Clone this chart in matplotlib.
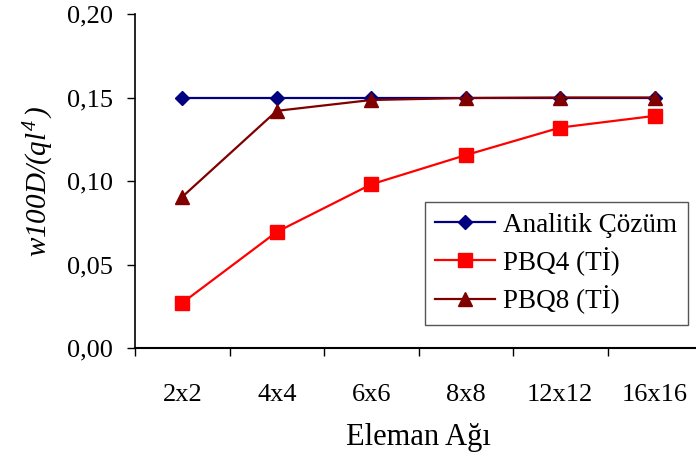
import matplotlib
matplotlib.use("Agg")
import matplotlib.pyplot as plt
import numpy as np

plt.rcParams['font.family'] = ['Liberation Serif', 'DejaVu Serif']
plt.rcParams['mathtext.fontset'] = 'custom'
plt.rcParams['mathtext.rm'] = 'Liberation Serif:italic'
plt.rcParams['mathtext.it'] = 'Liberation Serif:italic'

meshes = ['2x2', '4x4', '6x6', '8x8', '12x12', '16x16']
analitik = [0.150, 0.150, 0.150, 0.150, 0.150, 0.150]
pbq4 = [0.027, 0.0695, 0.098, 0.1155, 0.132, 0.139]
pbq8 = [0.0905, 0.142, 0.1485, 0.1497, 0.150, 0.150]

fig = plt.figure(figsize=(6.96, 4.66), dpi=100)
ax = fig.add_axes([135/696, 1 - 348/466, 567/696, 334/466])

x = np.arange(len(meshes))
ax.plot(x, analitik, color='#000080', marker='D', markersize=7.5, lw=1.6,
        label='Analitik Çözüm')
ax.plot(x, pbq4, color='#ff0000', marker='s', markersize=9.5, lw=1.6,
        label='PBQ4 (Tİ)')
ax.plot(x, pbq8, color='#800000', marker='^', markersize=10, lw=1.6,
        label='PBQ8 (Tİ)')

ax.set_xlim(-0.5, 5.5)
ax.set_ylim(0, 0.20)
ax.set_yticks([0, 0.05, 0.10, 0.15, 0.20])
ax.set_yticklabels(['0,00', '0,05', '0,10', '0,15', '0,20'], fontsize=19)
ax.set_xticks(x)
ax.set_xticklabels(meshes, fontsize=19)
ax.set_xticks(np.arange(-0.5, 5.6, 1), minor=True)
ax.tick_params(axis='x', which='major', length=0, pad=26)
ax.tick_params(axis='x', which='minor', length=6, width=1, direction='out')
ax.tick_params(axis='y', length=6, width=1, direction='out', pad=10)

for s in ['top', 'right']:
    ax.spines[s].set_visible(False)
ax.spines['left'].set_linewidth(1.2)
ax.spines['bottom'].set_linewidth(1.5)

ax.set_ylabel(r'$w100D/(ql^{4}\,)$', fontsize=21, labelpad=8)
ax.set_xlabel('Eleman Ağı', fontsize=22, labelpad=12)

leg = ax.legend(loc='lower right', bbox_to_anchor=(553/567, 23/334), fontsize=19.5,
                frameon=True, fancybox=False, framealpha=1, edgecolor='#555555',
                borderpad=0.4, labelspacing=0.35, handlelength=2.2,
                handletextpad=0.3, borderaxespad=0)
leg.get_frame().set_linewidth(1.0)

fig.savefig('out.png', dpi=100)
